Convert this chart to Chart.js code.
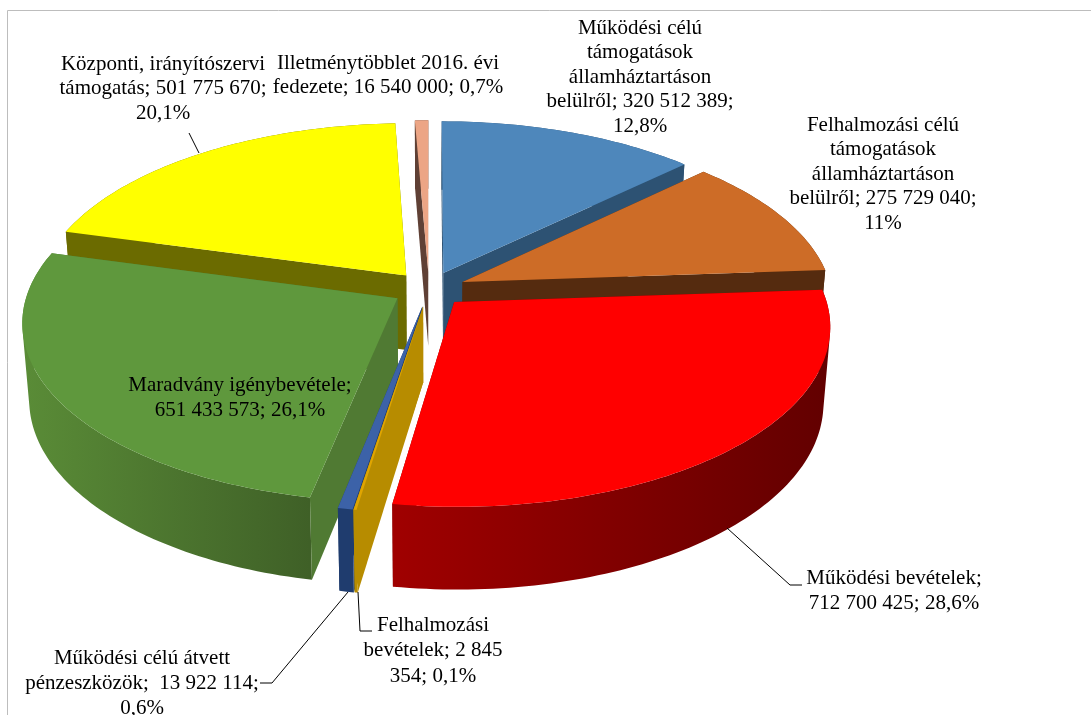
<!DOCTYPE html>
<html><head><meta charset="utf-8">
<style>html,body{margin:0;padding:0;background:#fff}canvas{display:block}</style>
<script src="https://cdn.jsdelivr.net/npm/chart.js@4"></script>
</head><body><canvas id="c" width="1091" height="715"></canvas>
<script>
const categories = ["Működési célú támogatások államháztartáson belülről","Felhalmozási célú támogatások államháztartáson belülről","Működési bevételek","Felhalmozási bevételek","Működési célú átvett pénzeszközök","Maradvány igénybevétele","Központi, irányítószervi támogatás","Illetménytöbblet 2016. évi fedezete"];
const values = [320512389,275729040,712700425,2845354,13922114,651433573,501775670,16540000];
const topColors = ["#4e87bb","#cd6c27","#ff0000","#e0a500","#3c62a8","#5f983d","#ffff00","#eca585"];
const rimColors = [["#2d5273","#2d5273"],["#552b0f","#552b0f"],["#a00000","#620000"],["#b78c00","#b78c00"],["#1f3c6e","#1f3c6e"],["#5a8c37","#3f6027"],["#6b6b00","#6b6b00"],["#5f4035","#5f4035"]];
const wallColors = ["#2d5273","#552b0f","#7a0000","#b78c00","#1f3c6e","#507a33","#6b6b00","#5f4035"];
const labelLines = [
 ["Működési célú","támogatások","államháztartáson","belülről; 320 512 389;","12,8%"],
 ["Felhalmozási célú","támogatások","államháztartáson","belülről; 275 729 040;","11%"],
 ["Működési bevételek;","712 700 425; 28,6%"],
 ["Felhalmozási","bevételek; 2 845","354; 0,1%"],
 ["Működési célú átvett","pénzeszközök;  13 922 114;","0,6%"],
 ["Maradvány igénybevétele;","651 433 573; 26,1%"],
 ["Központi, irányítószervi","támogatás; 501 775 670;","20,1%"],
 ["Illetménytöbblet 2016. évi","fedezete; 16 540 000; 0,7%"]
];
// layout of labels and leader lines, not data
const labelAnchors = [[640,28,24.6],[883,125,24.6],[894,578,25],[433,625,25.5],[142,658,25],[240,385,25],[163,64,24.5],[388,63,24]];
const leaders = [
 [[727,528],[790,585],[802,585]],
 [[358,592],[360,631],[372,631]],
 [[348,592],[272,683],[260,683]],
 [[189,133],[199,153]]
];
const view = {cx:429, cy:289, rx:369, ry:175, k:0.128, depth:75, kd:0.087, bottomX:0.983};

function project(u,v,drop){ // u right, v toward viewer (in pie radii)
  const Y=-v, s=1/(1+view.k*Y);
  const z=drop?view.depth/(1+view.kd*Y):0;
  return [view.cx+view.rx*u*s*(drop?view.bottomX:1), view.cy-view.ry*Y*s+z];
}
function poly(ctx,pts,fill){
  ctx.beginPath();pts.forEach((p,i)=>i?ctx.lineTo(p[0],p[1]):ctx.moveTo(p[0],p[1]));ctx.closePath();
  ctx.fillStyle=fill;ctx.fill();
}
function area(q){let a=0;q.forEach((p,i)=>{const n=q[(i+1)%q.length];a+=p[0]*n[1]-n[0]*p[1];});return a;}
const pie3d={
  id:'pie3d',
  beforeDatasetsDraw(chart){
    const ctx=chart.ctx, meta=chart.getDatasetMeta(0);
    const items=meta.data.map((el,i)=>{
      const a0=el.startAngle,a1=el.endAngle,mid=(a0+a1)/2;
      const off=el.options.offset/el.outerRadius;
      const ou=Math.cos(mid)*off, ov=Math.sin(mid)*off;
      const n=Math.max(2,Math.ceil((a1-a0)/0.02));
      const rim=[];for(let j=0;j<=n;j++){const a=a0+(a1-a0)*j/n;rim.push([ou+Math.cos(a),ov+Math.sin(a)]);}
      return {i,a0,a1,ou,ov,rim,key:Math.sin(mid)};
    }).sort((p,q)=>p.key-q.key);
    ctx.save();
    items.forEach(s=>{
      const {i,ou,ov,rim}=s;
      const wall=(p)=>[project(ou,ov,false),project(p[0],p[1],false),project(p[0],p[1],true),project(ou,ov,true)];
      const first=rim[0], last=rim[rim.length-1];
      const startFront=Math.cos(s.a0)<0, endFront=Math.cos(s.a1)>0;
      if(!startFront) poly(ctx,wall(first),wallColors[i]);
      if(!endFront) poly(ctx,wall(last),wallColors[i]);
      const topEdge=rim.map(p=>project(p[0],p[1],false));
      const botEdge=rim.map(p=>project(p[0],p[1],true));
      const xs=topEdge.map(p=>p[0]);
      const g=ctx.createLinearGradient(Math.min(...xs),0,Math.max(...xs),0);
      g.addColorStop(0,rimColors[i][0]);g.addColorStop(1,rimColors[i][1]);
      ctx.beginPath();
      for(let j=0;j<topEdge.length-1;j++){
        let q=[topEdge[j],topEdge[j+1],botEdge[j+1],botEdge[j]];
        if(area(q)<0) q=q.reverse();
        q.forEach((p,m)=>m?ctx.lineTo(p[0],p[1]):ctx.moveTo(p[0],p[1]));
        ctx.closePath();
      }
      ctx.fillStyle=g;ctx.fill('nonzero');
      if(startFront) poly(ctx,wall(first),wallColors[i]);
      if(endFront) poly(ctx,wall(last),wallColors[i]);
      poly(ctx,[project(ou,ov,false)].concat(topEdge),topColors[i]);
    });
    ctx.restore();
    return false;
  },
  afterDraw(chart){
    const ctx=chart.ctx;
    ctx.save();
    ctx.strokeStyle='#000';ctx.lineWidth=1;
    leaders.forEach(l=>{ctx.beginPath();l.forEach((p,i)=>i?ctx.lineTo(p[0],p[1]):ctx.moveTo(p[0],p[1]));ctx.stroke();});
    ctx.fillStyle='#000';ctx.font='21px "Liberation Serif"';ctx.textAlign='center';ctx.textBaseline='middle';
    labelLines.forEach((ls,i)=>{const a=labelAnchors[i];ls.forEach((t,j)=>ctx.fillText(t,a[0],a[1]+j*a[2]));});
    ctx.strokeStyle='#bdbdbd';ctx.lineWidth=1;
    ctx.beginPath();ctx.moveTo(7.5,715);ctx.lineTo(7.5,10.5);ctx.lineTo(1091,10.5);ctx.stroke();
    ctx.restore();
  }
};
new Chart(document.getElementById('c'),{
  type:'pie',
  data:{labels:categories,datasets:[{data:values,backgroundColor:topColors,borderWidth:0,offset:34}]},
  options:{responsive:false,animation:false,rotation:0,
    plugins:{legend:{display:false},tooltip:{enabled:false},title:{display:false}}},
  plugins:[pie3d]
});
</script></body></html>
